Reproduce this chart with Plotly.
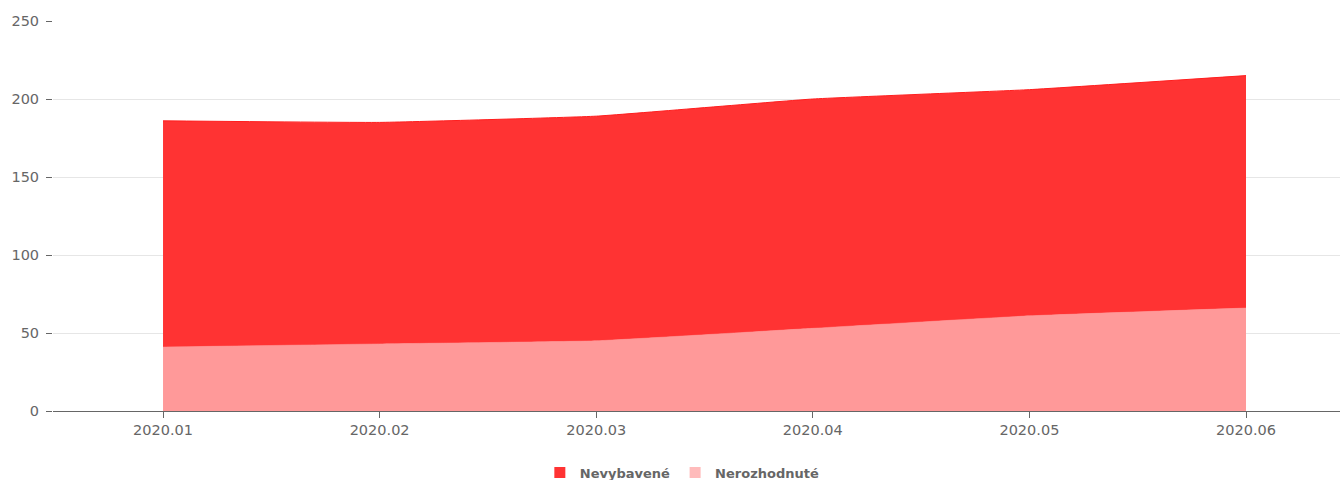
import plotly.graph_objects as go

categories = ["2020.01", "2020.02", "2020.03", "2020.04", "2020.05", "2020.06"]
nerozhodnute = [41, 43, 45, 53, 61, 66]
nevybavene = [145, 142, 144, 147, 145, 149]
y_ticks = [0, 50, 100, 150, 200, 250]

FONT = "DejaVu Sans"
GREY = "#666666"

fig = go.Figure()
fig.add_trace(go.Scatter(
    x=categories, y=nerozhodnute, stackgroup="one", mode="lines",
    line=dict(width=0.5, color="rgba(255,150,150,1)", shape="spline", smoothing=0.3),
    fillcolor="rgba(255,153,153,1)", name="Nerozhodnuté", showlegend=False,
    hoverinfo="x+y+name"))
fig.add_trace(go.Scatter(
    x=categories, y=nevybavene, stackgroup="one", mode="lines",
    line=dict(width=1, color="rgba(255,30,30,1)", shape="spline", smoothing=0.3),
    fillcolor="rgba(255,51,51,1)", name="Nevybavené", showlegend=False,
    hoverinfo="x+y+name"))

# legend entries with square symbols
fig.add_trace(go.Scatter(x=[None], y=[None], mode="markers", name="Nevybavené",
                         marker=dict(symbol="square", size=11, color="#ff3333")))
fig.add_trace(go.Scatter(x=[None], y=[None], mode="markers", name="Nerozhodnuté",
                         marker=dict(symbol="square", size=11, color="#ffbbbb")))

fig.update_layout(
    width=1340, height=480,
    margin=dict(l=53, r=0, t=21, b=69, autoexpand=False),
    paper_bgcolor="white", plot_bgcolor="white",
    font=dict(family=FONT, color=GREY, size=13),
    legend=dict(orientation="h", x=0.489, xanchor="center", y=-0.158, yanchor="middle",
                font=dict(family=FONT, size=13, color=GREY, weight="bold"),
                traceorder="normal", itemwidth=30, tracegroupgap=0),
    xaxis=dict(type="category", range=[-0.508, 5.434], showgrid=False,
               showline=True, linecolor="#666666", linewidth=1,
               ticks="outside", ticklen=6, tickcolor="#666666",
               tickfont=dict(family=FONT, size=14.5, color=GREY),
               zeroline=False, automargin=False),
    yaxis=dict(range=[0, 250], tickvals=y_ticks, showgrid=True, gridcolor="#e6e6e6",
               gridwidth=1, showline=False, zeroline=False,
               ticks="outside", ticklen=6, tickcolor="#666666",
               tickfont=dict(family=FONT, size=14.5, color=GREY),
               ticklabelstandoff=4, automargin=False),
)

fig.write_html("out.html", config={"displayModeBar": False},
               post_script="document.body.style.margin='0';document.body.style.overflow='hidden';")
